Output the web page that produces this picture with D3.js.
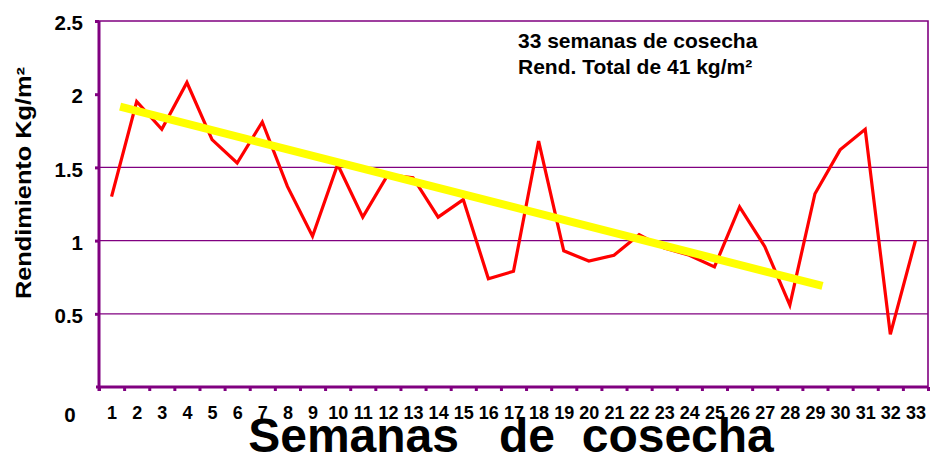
<!DOCTYPE html>
<html>
<head>
<meta charset="utf-8">
<title>Rendimiento por semana de cosecha</title>
<script src="https://cdn.jsdelivr.net/npm/d3@7"></script>
<style>
body { margin: 0; background: #fff; }
text { font-family: "Liberation Sans", Arial, sans-serif; font-weight: bold; fill: #000; }
.grid { stroke: #800080; stroke-width: 1.2; }
</style>
</head>
<body>
<script>
// weekly yield, kg/m2
var weeks = [1, 2, 3, 4, 5, 6, 7, 8, 9, 10, 11, 12, 13, 14, 15, 16, 17,
  18, 19, 20, 21, 22, 23, 24, 25, 26, 27, 28, 29, 30, 31, 32, 33];
var rend = [1.30, 1.95, 1.76, 2.08, 1.69, 1.53, 1.81, 1.37, 1.03, 1.52, 1.16,
  1.45, 1.43, 1.16, 1.28, 0.74, 0.79, 1.68, 0.93, 0.86, 0.90, 1.04, 0.95,
  0.90, 0.82, 1.23, 0.96, 0.56, 1.32, 1.62, 1.76, 0.36, 1.00];
// hand drawn trend line (week, value)
var trendWeek = [1.34, 29.3];
var trendRend = [1.915, 0.69];
var yTicks = [0, 0.5, 1, 1.5, 2, 2.5];
var gridTicks = [0.5, 1, 1.5];
var notes = ["33 semanas de cosecha", "Rend. Total de 41 kg/m\u00b2"];

var width = 932, height = 460;
// plot box (note: "top" is taken by window.top)
var pLeft = 99, pRight = 928, pTop = 21, pBottom = 387;

var svg = d3.select("body").append("svg")
  .attr("width", width)
  .attr("height", height);

var x = d3.scaleLinear().domain([0.5, weeks.length + 0.5]).range([pLeft, pRight]);
var y = d3.scaleLinear().domain([0, 2.5]).range([pBottom, pTop]);

// gridlines
svg.append("g").selectAll("line")
  .data(gridTicks)
  .enter().append("line")
  .attr("class", "grid")
  .attr("x1", pLeft).attr("x2", pRight)
  .attr("y1", function(d) { return y(d); })
  .attr("y2", function(d) { return y(d); });

// plot border top/right
svg.append("path")
  .attr("d", "M" + pLeft + "," + y(2.5) + "H" + pRight + "V" + pBottom)
  .attr("fill", "none")
  .attr("stroke", "#800080")
  .attr("stroke-width", 1.6);

// y axis
var yAxis = svg.append("g")
  .attr("transform", "translate(" + pLeft + ",0)")
  .call(d3.axisLeft(y).tickValues(yTicks).tickSize(4).tickPadding(12)
    .tickFormat(function(d) { return String(d); }));
yAxis.select(".domain").remove();
yAxis.selectAll(".tick line").attr("stroke", "#800080").attr("stroke-width", 3);
yAxis.selectAll(".tick text")
  .style("font-size", "20.5px")
  .attr("dy", "0.42em");
var zeroTick = yAxis.selectAll(".tick").filter(function(d) { return d === 0; });
zeroTick.select("text")
  .attr("text-anchor", "middle")
  .attr("x", 70 - pLeft)
  .attr("dy", null)
  .attr("y", 34);
zeroTick.select("line").remove();

svg.append("line")
  .attr("x1", pLeft).attr("x2", pLeft)
  .attr("y1", y(2.5)).attr("y2", pBottom + 4)
  .attr("stroke", "#800080").attr("stroke-width", 3);

// x axis: ticks sit on the category boundaries
var bounds = weeks.map(function(d) { return d - 0.5; }).concat([weeks.length + 0.5]);
var xTicks = svg.append("g")
  .attr("transform", "translate(0," + pBottom + ")")
  .call(d3.axisBottom(x).tickValues(bounds).tickSize(4).tickFormat(""));
xTicks.select(".domain").remove();
xTicks.selectAll(".tick line").attr("stroke", "#800080").attr("stroke-width", 3);

svg.append("line")
  .attr("x1", pLeft - 3).attr("x2", pRight)
  .attr("y1", pBottom).attr("y2", pBottom)
  .attr("stroke", "#800080").attr("stroke-width", 3);

// x labels
var xLabels = svg.append("g")
  .attr("transform", "translate(0," + pBottom + ")")
  .call(d3.axisBottom(x).tickValues(weeks).tickSize(0).tickPadding(0));
xLabels.select(".domain").remove();
xLabels.selectAll(".tick text")
  .style("font-size", "18px")
  .attr("dy", null)
  .attr("y", 32);

// series
var line = d3.line()
  .x(function(d, i) { return x(weeks[i]); })
  .y(function(d) { return y(d); });

svg.append("path")
  .datum(rend)
  .attr("d", line)
  .attr("fill", "none")
  .attr("stroke", "#ff0000")
  .attr("stroke-width", 3.2);

var trend = d3.line()
  .x(function(d, i) { return x(trendWeek[i]); })
  .y(function(d) { return y(d); });

svg.append("path")
  .datum(trendRend)
  .attr("d", trend)
  .attr("fill", "none")
  .attr("stroke", "#ffff00")
  .attr("stroke-width", 8);

// annotation
svg.append("g").selectAll("text")
  .data(notes)
  .enter().append("text")
  .attr("x", 518)
  .attr("y", function(d, i) { return 48 + i * 26; })
  .style("font-size", "21px")
  .text(function(d) { return d; });

// axis titles
svg.append("text")
  .attr("transform", "translate(30.5,183) rotate(-90)")
  .attr("text-anchor", "middle")
  .attr("textLength", 232)
  .attr("lengthAdjust", "spacingAndGlyphs")
  .style("font-size", "21.5px")
  .text("Rendimiento Kg/m\u00b2");

svg.append("text")
  .attr("x", 511)
  .attr("y", 452)
  .attr("text-anchor", "middle")
  .style("font-size", "48px")
  .style("white-space", "pre")
  .text("Semanas   de  cosecha");
</script>
</body>
</html>
